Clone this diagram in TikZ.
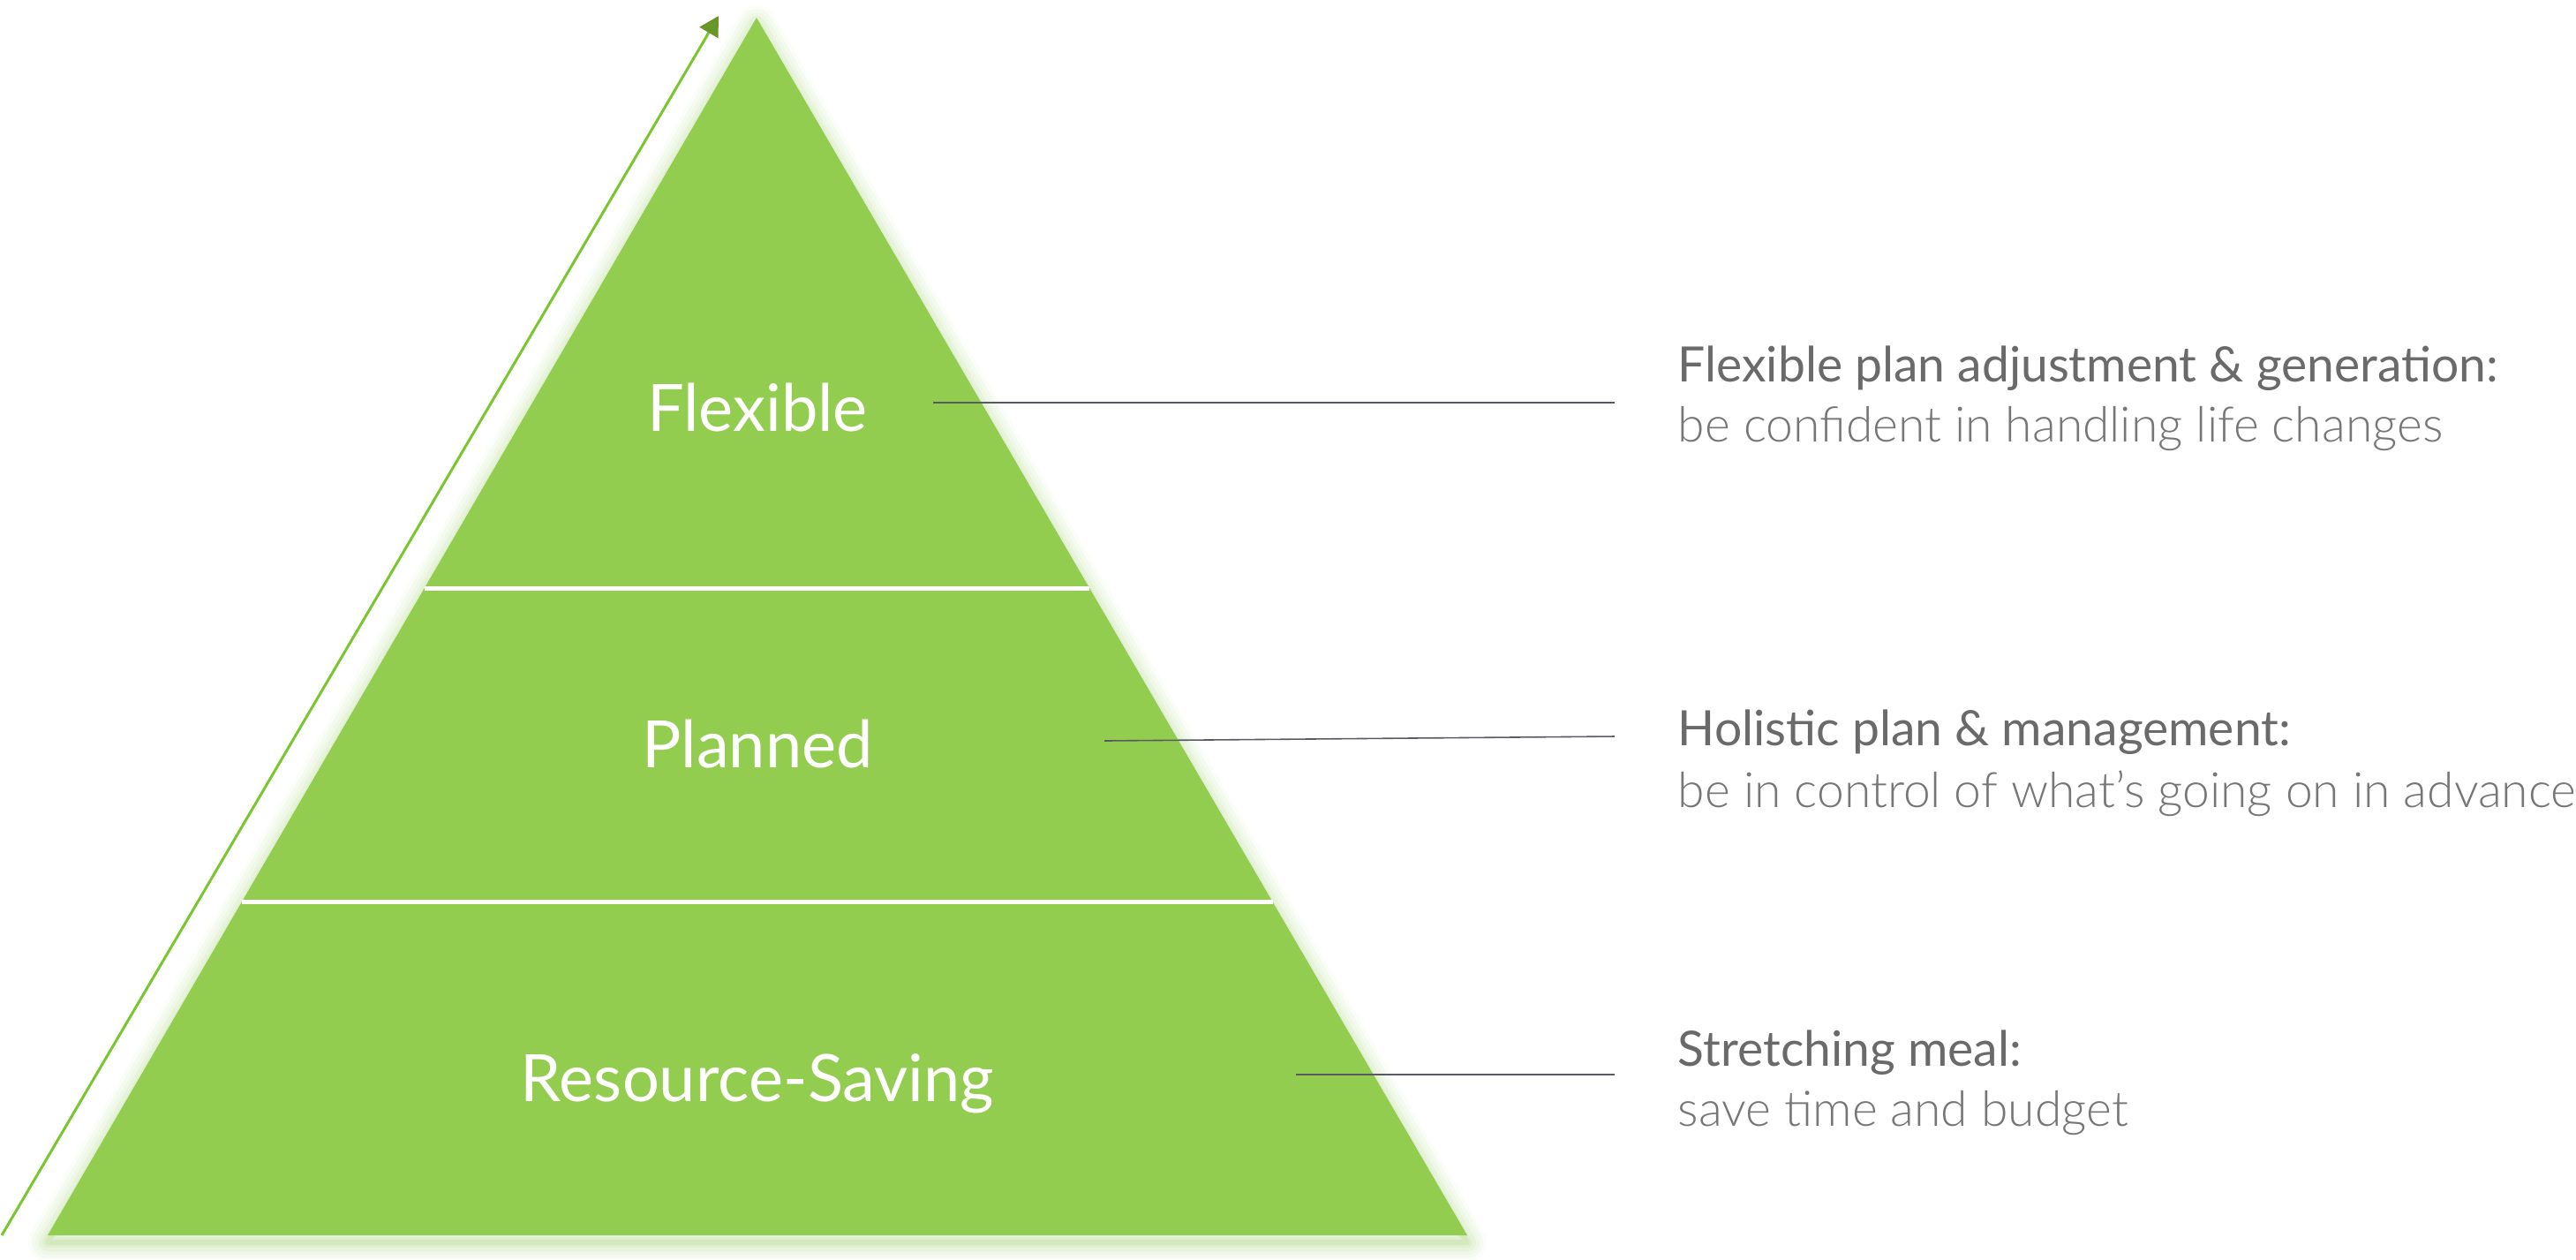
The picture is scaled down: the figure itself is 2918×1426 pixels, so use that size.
\documentclass[tikz,border=0pt]{standalone}
\usepackage{fontspec}
\setmainfont{Lato}
\newfontfamily\latolight{Lato Light}
\usetikzlibrary{arrows.meta,calc}
\definecolor{pyr}{RGB}{146,205,80}
\definecolor{glow}{RGB}{120,185,50}
\definecolor{arrline}{RGB}{122,198,46}
\definecolor{arrhead}{RGB}{104,150,40}
\definecolor{titlegray}{RGB}{106,106,106}
\definecolor{subgray}{RGB}{118,118,118}
\definecolor{conngray}{RGB}{90,90,100}
\tikzset{
  inner/.style={text=white, font=\fontsize{18.5}{22}\selectfont, anchor=base, inner sep=0pt},
  title/.style={text=titlegray, font=\fontsize{13.8}{17}\selectfont, anchor=base west, inner sep=0pt},
  subtitle/.style={text=subgray, font=\latolight\fontsize{13.8}{17}\selectfont, anchor=base west, inner sep=0pt},
  conn/.style={draw=conngray, line width=0.4pt},
  sep/.style={draw=white, line width=1.25pt},
}
\begin{document}
\begin{tikzpicture}[x=0.25pt,y=-0.25pt]
\useasboundingbox (0,0) rectangle (2918,1426);
\coordinate (apex) at (857,20);
\coordinate (bl) at (54,1399);
\coordinate (br) at (1662,1399);
% glow
\foreach \w/\o in {44/0.03,36/0.04,28/0.05,20/0.06,12/0.08,6/0.1}{
  \draw[glow, line width=\w*0.25pt, opacity=\o, line join=round]
    ([yshift=-2pt]apex) -- ([yshift=-2pt]bl) -- ([yshift=-2pt]br) -- cycle;
}
\fill[pyr] (apex) -- (bl) -- (br) -- cycle;
% separators
\coordinate (s1l) at ($(apex)!0.4685!(bl)$);
\coordinate (s1r) at ($(apex)!0.4685!(br)$);
\coordinate (s2l) at ($(apex)!0.7266!(bl)$);
\coordinate (s2r) at ($(apex)!0.7266!(br)$);
\draw[sep] (s1l) -- (s1r);
\draw[sep] (s2l) -- (s2r);
% arrow
\coordinate (a0) at (2,1399);
\coordinate (a1) at (814,18);
\draw[arrline, line width=0.75pt, -{Triangle[length=5.5pt,width=6pt,color=arrhead]}] (a0) -- (a1);
% inner labels
\node[inner] (flex) at (858,488) {Flexible};
\node[inner] (plan) at (858,869) {Planned};
\node[inner] (res) at (858,1247) {Resource-Saving};
% right texts
\node[title] (t1) at (1900,432) {Flexible plan adjustment \& generation:};
\node[subtitle] (u1) at (1900,500) {be confident in handling life changes};
\node[title] (t2) at (1900,844) {Holistic plan \& management:};
\node[subtitle] (u2) at (1900,914) {be in control of what’s going on in advance};
\node[title] (t3) at (1900,1207) {Stretching meal:};
\node[subtitle] (u3) at (1900,1275) {save time and budget};
% connectors
\coordinate (c1a) at (1057,456);
\coordinate (c1b) at (1829,456);
\coordinate (c2a) at (1251,839);
\coordinate (c2b) at (1829,834);
\coordinate (c3a) at (1468,1217);
\coordinate (c3b) at (1829,1217);
\draw[conn] (c1a) -- (c1b);
\draw[conn] (c2a) -- (c2b);
\draw[conn] (c3a) -- (c3b);
\end{tikzpicture}
\end{document}
